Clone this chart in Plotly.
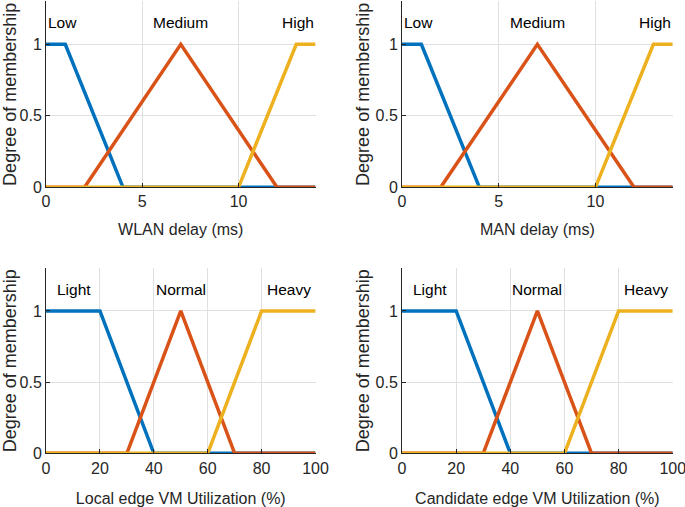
import plotly.graph_objects as go
from plotly.subplots import make_subplots

# membership function breakpoints (x) and degree of membership (y)
delay_low_x = [0, 1, 4, 14]
delay_low_y = [1, 1, 0, 0]
delay_med_x = [0, 2, 7, 12, 14]
delay_med_y = [0, 0, 1, 0, 0]
delay_high_x = [0, 10, 13, 14]
delay_high_y = [0, 0, 1, 1]

util_light_x = [0, 20, 40, 100]
util_light_y = [1, 1, 0, 0]
util_norm_x = [0, 30, 50, 70, 100]
util_norm_y = [0, 0, 1, 0, 0]
util_heavy_x = [0, 60, 80, 100]
util_heavy_y = [0, 0, 1, 1]

delay_labels = ["Low", "Medium", "High"]
delay_label_x = [0.85, 7, 13.1]
util_labels = ["Light", "Normal", "Heavy"]
util_label_x = [10.2, 50, 90]
label_y = 1.15

x_titles = ["WLAN delay (ms)", "MAN delay (ms)",
            "Local edge VM Utilization (%)", "Candidate edge VM Utilization (%)"]

COLORS = ["#0072BD", "#D95319", "#EDB120"]
FONT = "Liberation Sans, Arial, Helvetica, sans-serif"
TXT = "#262626"

delay_sets = [(delay_low_x, delay_low_y), (delay_med_x, delay_med_y), (delay_high_x, delay_high_y)]
util_sets = [(util_light_x, util_light_y), (util_norm_x, util_norm_y), (util_heavy_x, util_heavy_y)]

panels = [
    (1, 1, delay_sets, delay_labels, delay_label_x, [0, 14], [0, 5, 10], 14),
    (1, 2, delay_sets, delay_labels, delay_label_x, [0, 14], [0, 5, 10], 14),
    (2, 1, util_sets, util_labels, util_label_x, [0, 100], [0, 20, 40, 60, 80, 100], 17),
    (2, 2, util_sets, util_labels, util_label_x, [0, 100], [0, 20, 40, 60, 80, 100], 17),
]

fig = make_subplots(rows=2, cols=2)

for i, (row, col, sets, labels, lab_x, xr, xt, so) in enumerate(panels):
    for k, (xs, ys) in enumerate(sets):
        fig.add_trace(go.Scatter(x=xs, y=ys, mode="lines",
                                 line=dict(color=COLORS[k], width=3.5),
                                 showlegend=False, hoverinfo="skip"),
                      row=row, col=col)
    for name, lx in zip(labels, lab_x):
        fig.add_annotation(x=lx, y=label_y, text=name, showarrow=False,
                           font=dict(size=15.5, color="black", family=FONT),
                           row=row, col=col)
    fig.update_xaxes(range=xr, tickvals=xt, title=dict(text=x_titles[i], standoff=so,
                                                       font=dict(size=16, color=TXT)),
                     row=row, col=col)
    fig.update_yaxes(range=[0, 1.3], tickvals=[0, 0.5, 1],
                     ticktext=["0", "0.5", "1"],
                     title=dict(text="Degree of membership", standoff=1,
                                font=dict(size=18, color=TXT)),
                     row=row, col=col)

fig.update_xaxes(showgrid=True, gridcolor="#e0e0e0", gridwidth=1, zeroline=False,
                 showline=True, linecolor=TXT, linewidth=1, ticks="inside", ticklen=4,
                 tickcolor=TXT, tickfont=dict(size=16, color=TXT), automargin=False,
                 ticklabeloverflow="allow")
fig.update_yaxes(showgrid=True, gridcolor="#e0e0e0", gridwidth=1, zeroline=False,
                 showline=True, linecolor=TXT, linewidth=1, ticks="inside", ticklen=4,
                 tickcolor=TXT, tickfont=dict(size=16, color=TXT), automargin=False,
                 ticklabeloverflow="allow")

# axis placement
fig.update_layout(
    xaxis=dict(domain=[0.0672, 0.4606]),
    xaxis2=dict(domain=[0.5869, 0.9821]),
    xaxis3=dict(domain=[0.0672, 0.4606]),
    xaxis4=dict(domain=[0.5869, 0.9821]),
    yaxis=dict(domain=[0.6306, 0.9972]),
    yaxis2=dict(domain=[0.6306, 0.9972]),
    yaxis3=dict(domain=[0.1059, 0.4708]),
    yaxis4=dict(domain=[0.1059, 0.4708]),
)

fig.update_layout(
    width=685, height=507,
    margin=dict(l=0, r=0, t=0, b=0),
    paper_bgcolor="white", plot_bgcolor="white",
    font=dict(family=FONT, color=TXT),
)

fig.write_html("out.html", config={"displayModeBar": False},
               post_script="document.body.style.margin='0';")
